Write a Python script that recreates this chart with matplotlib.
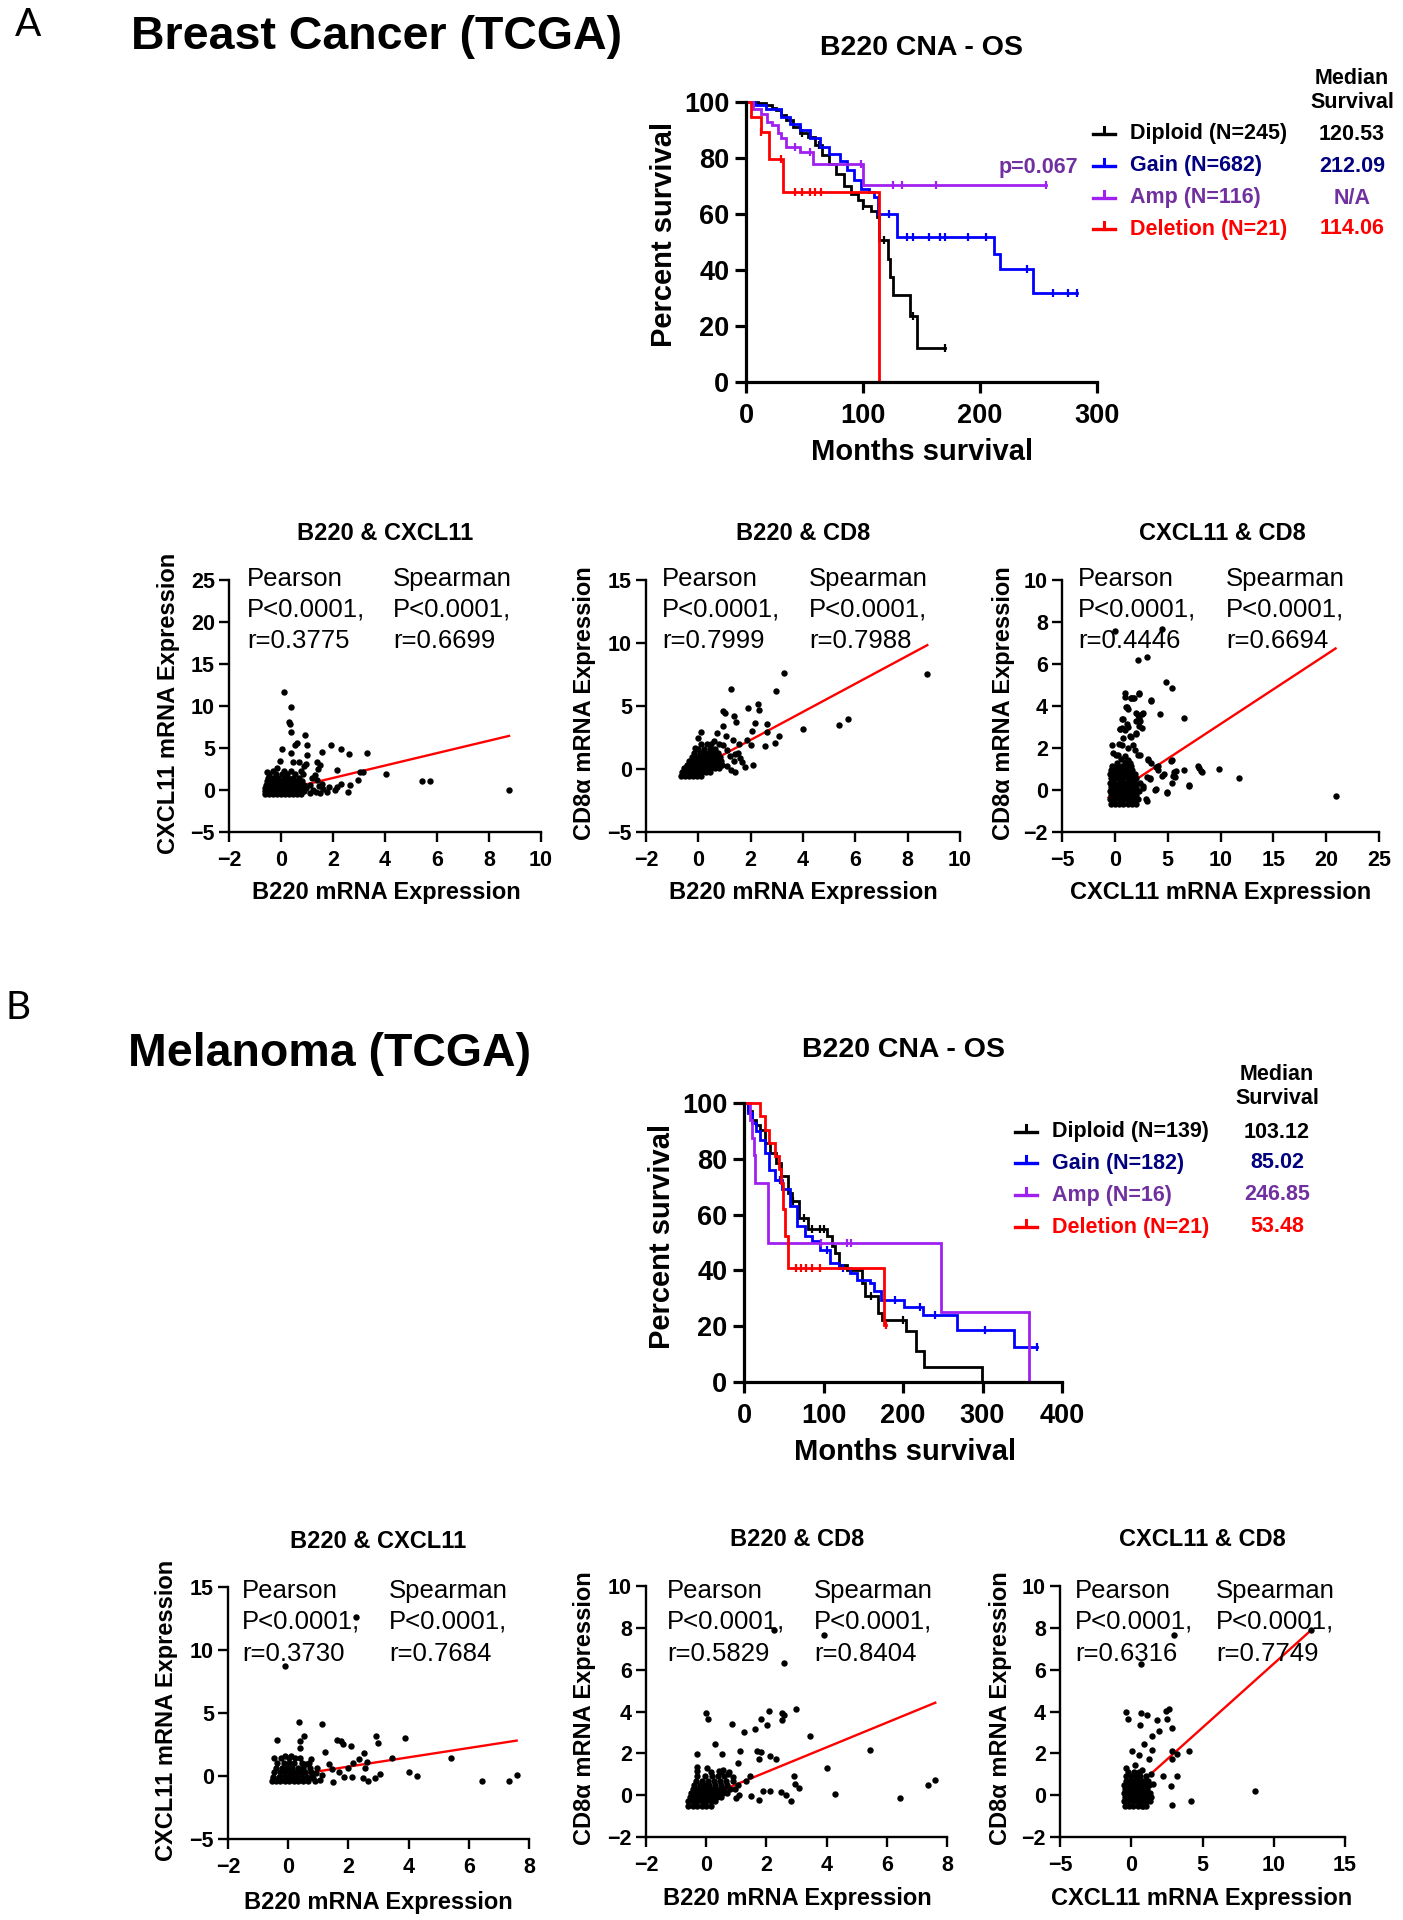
import numpy as np
import matplotlib
matplotlib.use("Agg")
import matplotlib.pyplot as plt
from matplotlib.lines import Line2D

W, H = 1403, 1920
SANS = ["Liberation Sans", "DejaVu Sans"]

# ---------------- survival data (months, percent surviving) ----------------
# Breast cancer
brca_dip_t = [0, 10, 17, 22, 26, 30, 34, 40, 46, 53, 59, 65, 71, 77, 84, 90, 96, 100, 107, 112, 114, 121, 123, 126, 140, 146]
brca_dip_s = [100, 99.5, 98.8, 98, 97, 95.5, 93.5, 91, 89, 87.5, 84.5, 81, 78, 74.4, 70, 67, 65, 63, 61, 59, 50.6, 44, 37.5, 31, 23.5, 12]
brca_dip_end = 170
brca_dip_cens = [48, 62, 100, 118, 143, 170]

brca_gain_t = [0, 8, 17, 30, 38, 46, 55, 63, 71, 80, 86, 92, 98, 105, 109, 113, 129, 212, 217, 245]
brca_gain_s = [100, 99, 97.6, 94.6, 92.3, 90, 87, 84, 81.5, 79, 75.6, 72, 69, 68, 66, 60, 51.8, 45.8, 40.5, 31.8]
brca_gain_end = 283
brca_gain_cens = [122, 138, 143, 156, 166, 170, 190, 205, 240, 262, 275, 283]

brca_amp_t = [0, 6, 13, 18, 22, 27, 30, 34, 46, 57, 100]
brca_amp_s = [100, 97.6, 95.8, 93, 91.7, 89, 87, 84, 82, 78, 70.5]
brca_amp_end = 256
brca_amp_cens = [42, 55, 98, 126, 133, 162, 256]

brca_del_t = [0, 4, 12.5, 19.5, 32, 114]
brca_del_s = [100, 94.6, 89.3, 79.8, 68, 0]
brca_del_end = 114
brca_del_cens = [13, 30, 42, 48, 55, 59, 64]

# Melanoma
skcm_dip_t = [0, 5, 10, 15, 20, 26, 33, 40, 46, 55, 61, 69, 80, 105, 111, 115, 120, 130, 149, 152, 168, 174, 204, 216, 227, 299.5]
skcm_dip_s = [100, 97, 94, 92, 90.4, 85.7, 82, 78.5, 73.7, 67.7, 64.8, 58.8, 55, 52.2, 48.6, 46.2, 42, 40.3, 35.5, 30.7, 24.7, 22.3, 18.2, 11, 5.4, 0]
skcm_dip_end = 299.5
skcm_dip_cens = [62, 75, 86, 95, 100, 160, 200]

skcm_gain_t = [0, 5, 10, 15, 20, 26, 31, 39, 48, 58, 67, 77, 86, 95, 108, 120, 133, 142, 158, 164, 172, 201, 225, 268, 340]
skcm_gain_s = [100, 96.5, 92.8, 90, 86.9, 82, 76, 72.5, 69, 63, 55.8, 52.2, 50.4, 47.4, 42.7, 40.9, 39, 36.7, 35.5, 32.5, 29.5, 26.9, 24.1, 18.8, 12.5]
skcm_gain_end = 368
skcm_gain_cens = [45, 105, 125, 190, 222, 240, 303, 368]

skcm_amp_t = [0, 7, 10, 12, 14, 30, 248, 358]
skcm_amp_s = [100, 93.75, 87.5, 81.25, 71.5, 50, 25, 0]
skcm_amp_end = 358
skcm_amp_cens = [97, 130, 135]

skcm_del_t = [0, 20, 27, 31, 39, 44, 46.5, 49, 52, 55, 176]
skcm_del_s = [100, 95.2, 90.5, 85.7, 81, 76.2, 71.4, 61.9, 52.4, 40.9, 20.5]
skcm_del_end = 178
skcm_del_cens = [66, 72, 78, 86, 95, 178]

groups = ["Diploid", "Gain", "Amp", "Deletion"]
brca_n = [245, 682, 116, 21]
brca_median = ["120.53", "212.09", "N/A", "114.06"]
skcm_n = [139, 182, 16, 21]
skcm_median = ["103.12", "85.02", "246.85", "53.48"]

# ---------------- correlation data (outliers + dense core rows) ----------------
a1_pts = [(0.12, 11.7), (0.37, 9.9), (0.29, 8.1), (0.33, 7.9), (0.37, 6.9), (0.92, 6.5), (0.54, 5.4),
          (0.6, 5.6), (1.01, 5.33), (1.93, 5.33), (2.3, 4.83), (2.61, 4.24), (3.29, 4.44), (0.03, 4.83),
          (1.57, 4.55), (1.01, 4.16), (0.38, 4.36), (-0.02, 3.42), (0.46, 3.34), (0.68, 3.34), (0.97, 3.07),
          (1.38, 3.34), (1.41, 2.55), (1.49, 2.95), (2.15, 2.35), (3.05, 2.15), (3.15, 2.15), (4.03, 1.95),
          (5.41, 1.04), (5.73, 1.04), (8.77, 0.05), (2.3, 0.76), (2.64, 0.64), (2.57, -0.23), (2.96, 1.24),
          (2.09, 0.05), (1.76, -0.23), (1.51, -0.35), (1.83, 0.36), (1.57, 0.76), (1.38, 1.16), (1.19, 1.48),
          (2.15, 0.36), (1.24, 0.0), (1.12, 0.6), (1.31, 1.75), (-0.17, 2.6), (-0.55, 2.15), (0.9, 2.8),
          (1.1, -0.3), (1.35, -0.2), (1.6, 0.1), (1.45, 0.5)]
a1_core = [(-0.5, [-0.6, -0.45, -0.3, -0.15, 0.0, 0.15, 0.3, 0.45, 0.6, 0.75]),
           (-0.15, [-0.62, -0.48, -0.32, -0.18, -0.02, 0.12, 0.28, 0.42, 0.58, 0.72, 0.88]),
           (0.25, [-0.6, -0.45, -0.28, -0.12, 0.05, 0.2, 0.35, 0.5, 0.65, 0.8, 0.95]),
           (0.65, [-0.58, -0.4, -0.25, -0.08, 0.08, 0.25, 0.4, 0.55, 0.7, 0.9]),
           (1.05, [-0.55, -0.38, -0.2, -0.02, 0.15, 0.32, 0.48, 0.62, 0.8]),
           (1.45, [-0.5, -0.3, -0.1, 0.1, 0.28, 0.45, 0.7]),
           (1.85, [-0.45, -0.2, 0.02, 0.22, 0.55, 0.85]),
           (2.3, [-0.3, 0.1, 0.4, 0.75])]
a1_fit = ([-0.6, 8.77], [-0.49, 6.44])

a2_pts = [(8.75, 7.53), (3.29, 7.64), (2.95, 6.18), (1.24, 6.34), (2.29, 5.12), (2.32, 4.67), (1.89, 4.85),
          (0.93, 4.59), (1.02, 4.46), (1.35, 4.19), (1.44, 3.74), (2.62, 3.61), (2.15, 3.66), (0.94, 3.4),
          (2.62, 2.95), (2.06, 3.0), (3.1, 2.6), (3.99, 3.21), (5.39, 3.53), (5.71, 3.95), (2.94, 2.07),
          (2.56, 1.81), (2.01, 1.89), (1.86, 2.28), (1.54, 2.02), (1.32, 2.34), (1.09, 1.54), (1.6, 0.9),
          (1.67, 0.56), (1.79, 0.17), (2.09, 0.3), (1.41, -0.23), (0.71, 2.87), (0.1, 2.95), (-0.01, 2.5),
          (-0.12, 1.7), (0.52, 1.54), (0.81, 0.96), (1.2, 1.0), (1.35, 0.6), (1.5, 1.3), (1.1, 0.2),
          (1.25, -0.1), (0.6, 2.2), (0.35, 2.0), (0.95, 1.9), (1.05, 2.6), (1.4, 1.2)]
a2_core = [(-0.55, [-0.65, -0.5, -0.35, -0.2, -0.05, 0.1]),
           (-0.25, [-0.62, -0.45, -0.3, -0.15, 0.0, 0.15, 0.3, 0.45]),
           (0.05, [-0.55, -0.4, -0.25, -0.1, 0.05, 0.2, 0.35, 0.5, 0.65, 0.8]),
           (0.35, [-0.45, -0.3, -0.15, 0.0, 0.15, 0.3, 0.45, 0.6, 0.75, 0.9]),
           (0.65, [-0.35, -0.2, -0.05, 0.1, 0.25, 0.4, 0.55, 0.7, 0.85]),
           (0.95, [-0.25, -0.1, 0.05, 0.2, 0.35, 0.5, 0.65, 0.8]),
           (1.25, [-0.15, 0.05, 0.25, 0.4, 0.6, 0.75]),
           (1.6, [0.0, 0.2, 0.45, 0.65]),
           (1.95, [0.12, 0.5, 0.8])]
a2_fit = ([-0.6, 8.75], [-0.59, 9.83])

a3_pts = [(-0.01, 7.57), (4.47, 7.65), (2.2, 6.19), (3.05, 6.34), (4.88, 5.12), (5.42, 4.88), (0.94, 4.63),
          (2.26, 4.6), (1.57, 4.39), (1.79, 4.36), (3.46, 4.25), (1.09, 3.96), (6.56, 3.44), (4.25, 3.61),
          (2.04, 3.69), (2.67, 3.69), (1.98, 3.28), (2.36, 3.28), (0.78, 3.36), (1.25, 3.01), (2.58, 2.93),
          (0.46, 2.9), (2.04, 2.69), (1.57, 2.53), (0.4, 2.21), (-0.23, 2.16), (1.25, 2.02), (1.73, 2.13),
          (0.15, 1.69), (2.2, 1.66), (3.15, 1.5), (5.42, 1.45), (4.09, 1.13), (7.88, 1.13), (8.2, 0.91),
          (9.87, 0.99), (11.77, 0.57), (20.89, -0.3), (7.03, 0.23), (6.56, 0.94), (5.77, 0.89), (5.67, 0.62),
          (5.42, 0.34), (4.95, -0.09), (4.5, 0.67), (4.63, 0.78), (3.87, 0.07), (3.3, 0.57), (2.99, -0.44),
          (2.67, 0.19), (0.96, 4.41), (1.5, 4.36), (1.75, 4.36), (2.27, 4.55), (3.44, 4.27), (1.12, 3.95),
          (1.28, 3.87), (2.15, 3.55), (2.3, 3.45), (2.54, 3.63), (0.65, 3.36), (1.12, 3.12), (0.65, 2.97),
          (0.96, 2.84), (0.49, 2.89), (1.43, 2.57), (2.24, 3.04), (2.02, 2.72), (0.65, 2.16), (-0.14, 1.77),
          (0.33, 1.69), (0.96, 1.61), (1.28, 1.45), (2.38, 1.66), (3.17, 1.45), (3.39, 1.29), (3.9, 1.09),
          (5.32, 1.37), (4.05, 0.93), (5.63, 0.87), (5.47, 0.66), (3.08, 0.62), (3.33, 0.51), (2.7, 0.11),
          (3.8, 0.0), (4.9, -0.13), (3.02, -0.53), (6.99, 0.19), (7.93, 1.06), (8.25, 0.87),
          (0.2, 1.3), (0.6, 1.5), (1.0, 1.35), (1.4, 1.3), (1.9, 1.9), (0.8, 2.5)]
a3_core = [(-0.65, [-0.4, 0.0, 0.4, 0.8, 1.2, 1.6, 2.0]),
           (-0.45, [-0.45, -0.05, 0.35, 0.75, 1.15, 1.55, 1.95, 2.2]),
           (-0.25, [-0.4, 0.0, 0.4, 0.8, 1.2, 1.6, 2.0]),
           (-0.05, [-0.45, -0.05, 0.35, 0.75, 1.15, 1.55, 1.95, 2.3]),
           (0.15, [-0.4, 0.0, 0.4, 0.8, 1.2, 1.6, 2.0]),
           (0.35, [-0.45, -0.05, 0.35, 0.75, 1.15, 1.55, 1.95, 2.35]),
           (0.55, [-0.4, 0.0, 0.4, 0.8, 1.2, 1.6, 2.0]),
           (0.75, [-0.45, -0.05, 0.35, 0.75, 1.15, 1.55, 1.95]),
           (0.95, [-0.4, 0.0, 0.4, 0.8, 1.2, 1.6]),
           (1.15, [-0.3, 0.2, 0.7, 1.1, 1.5])]
a3_fit = ([-0.6, 20.89], [-0.36, 6.74])

b1_pts = [(-0.1, 8.72), (2.25, 12.63), (0.35, 4.26), (1.13, 4.1), (-0.37, 2.86), (0.53, 3.18), (0.38, 2.81),
          (0.38, 2.26), (1.62, 2.86), (1.75, 2.81), (1.81, 2.52), (2.08, 2.41), (2.91, 3.18), (2.98, 2.65),
          (3.88, 3.0), (1.23, 1.94), (2.52, 1.86), (3.46, 1.46), (5.41, 1.41), (2.34, 1.33), (2.14, 1.02),
          (2.61, 1.1), (2.55, 0.67), (2.0, 0.67), (1.45, 0.54), (1.34, 0.94), (0.75, 1.36), (4.01, 0.28),
          (4.27, 0.01), (3.06, 0.17), (2.87, -0.17), (2.65, -0.36), (2.5, -0.12), (2.12, -0.04), (1.86, -0.04),
          (1.69, 0.3), (1.48, -0.44), (6.43, -0.36), (7.35, -0.36), (7.59, 0.09), (1.06, -0.3), (0.84, -0.12),
          (1.12, 0.09), (0.92, 0.25), (0.95, 0.62), (0.6, 0.95), (0.08, 1.62), (-0.1, 1.55)]
b1_core = [(-0.4, [-0.55, -0.42, -0.28, -0.12, 0.02, 0.18, 0.32, 0.48, 0.66, 0.88]),
           (-0.05, [-0.5, -0.32, -0.16, 0.0, 0.14, 0.3, 0.46, 0.62, 0.8]),
           (0.3, [-0.46, -0.28, -0.1, 0.06, 0.22, 0.38, 0.56, 0.76]),
           (0.65, [-0.4, -0.22, -0.04, 0.14, 0.32, 0.5, 0.72]),
           (1.0, [-0.36, -0.14, 0.02, 0.2, 0.46, 0.68]),
           (1.4, [-0.48, -0.24, 0.04, 0.22, 0.4])]
b1_fit = ([-0.55, 7.59], [-0.2, 2.81])

b2_pts = [(2.24, 7.88), (3.9, 7.64), (2.57, 6.32), (0.0, 3.94), (0.07, 3.63), (2.09, 4.02), (2.51, 3.93),
          (2.59, 3.82), (2.98, 4.1), (1.81, 3.63), (1.63, 3.18), (2.01, 3.34), (0.85, 3.39), (1.24, 3.02),
          (2.51, 3.61), (3.45, 2.81), (0.29, 2.43), (-0.31, 1.95), (0.54, 1.98), (1.13, 2.1), (1.68, 2.1),
          (1.83, 2.06), (2.12, 1.86), (2.32, 1.71), (1.76, 1.71), (1.07, 1.54), (5.43, 2.14), (4.01, 1.31),
          (1.46, 0.92), (1.33, 0.66), (2.93, 0.9), (2.96, 0.55), (3.09, 0.34), (1.07, 0.47), (1.88, 0.18),
          (2.12, 0.2), (2.48, 0.15), (2.65, -0.01), (2.82, -0.28), (1.76, -0.25), (1.49, -0.06), (4.29, 0.04),
          (6.45, -0.14), (7.37, 0.5), (7.61, 0.74), (0.88, 0.87), (0.74, 1.0), (0.57, 1.19), (0.41, 1.16),
          (0.02, 1.31), (-0.31, 1.35), (-0.29, 1.16), (1.0, -0.15), (1.1, 0.0), (0.95, 0.3)]
b2_core = [(-0.5, [-0.6, -0.45, -0.3, -0.15, 0.0, 0.15]),
           (-0.3, [-0.6, -0.45, -0.3, -0.15, 0.0, 0.15, 0.3]),
           (-0.1, [-0.55, -0.4, -0.25, -0.1, 0.05, 0.2, 0.35, 0.5]),
           (0.1, [-0.5, -0.35, -0.2, -0.05, 0.1, 0.25, 0.4, 0.55, 0.7]),
           (0.3, [-0.45, -0.3, -0.15, 0.0, 0.15, 0.3, 0.45, 0.6, 0.8]),
           (0.5, [-0.4, -0.2, -0.05, 0.1, 0.3, 0.5, 0.7]),
           (0.7, [-0.35, -0.15, 0.05, 0.25, 0.45, 0.65, 0.9]),
           (0.9, [-0.3, -0.05, 0.2, 0.4, 0.6]),
           (1.1, [0.15, 0.5, 0.75])]
b2_fit = ([-0.55, 7.61], [-0.4, 4.42])

b3_pts = [(12.61, 7.88), (3.02, 7.64), (0.68, 6.29), (-0.39, 3.98), (-0.2, 3.63), (0.68, 3.94), (1.13, 3.82),
          (0.64, 3.37), (1.83, 3.61), (1.95, 3.05), (1.48, 2.81), (2.44, 4.02), (2.63, 4.1), (2.49, 3.63),
          (2.84, 3.21), (0.08, 2.1), (0.92, 2.43), (0.54, 1.9), (1.44, 2.14), (1.27, 1.74), (2.88, 2.11),
          (3.19, 1.98), (4.08, 2.11), (2.84, 1.71), (-0.39, 1.31), (0.26, 1.43), (0.73, 1.19), (1.36, 1.03),
          (2.25, 0.92), (3.19, 0.92), (1.55, 0.55), (2.79, 0.42), (8.68, 0.2), (4.22, -0.29), (2.86, -0.49),
          (1.36, -0.09), (0.85, -0.53), (1.27, 0.47)]
b3_core = [(-0.5, [-0.45, -0.15, 0.15, 0.45, 0.75, 1.05]),
           (-0.3, [-0.5, -0.2, 0.1, 0.4, 0.7, 1.0, 1.3]),
           (-0.1, [-0.45, -0.15, 0.15, 0.45, 0.75, 1.05]),
           (0.1, [-0.5, -0.2, 0.1, 0.4, 0.7, 1.0, 1.35]),
           (0.3, [-0.45, -0.15, 0.15, 0.45, 0.75, 1.1]),
           (0.5, [-0.5, -0.2, 0.1, 0.4, 0.7, 1.0]),
           (0.7, [-0.4, -0.1, 0.2, 0.5, 0.8, 1.2]),
           (0.9, [-0.35, -0.05, 0.3, 0.6, 1.0]),
           (1.1, [-0.2, 0.2, 0.55])]
b3_fit = ([-0.5, 12.61], [-0.13, 7.88])

stats = {
    "a1": ("0.3775", "0.6699"), "a2": ("0.7999", "0.7988"), "a3": ("0.4446", "0.6694"),
    "b1": ("0.3730", "0.7684"), "b2": ("0.5829", "0.8404"), "b3": ("0.6316", "0.7749"),
}

# ---------------- styling ----------------
KM_COLORS = ["#000000", "#0000ff", "#a020f0", "#ff0000"]
TXT_COLORS = ["#000000", "#000080", "#7030a0", "#ff0000"]

plt.rcParams.update({"font.family": SANS, "axes.linewidth": 1.7})

fig = plt.figure(figsize=(W / 100, H / 100), dpi=100)


def px_axes(l, t, r, b):
    return fig.add_axes([l / W, 1 - b / H, (r - l) / W, (b - t) / H])


def ftext(x, y, s, **kw):
    kw.setdefault("ha", "center")
    kw.setdefault("va", "center")
    return fig.text(x / W, 1 - y / H, s, **kw)


def fline(xs, ys, **kw):
    fig.add_artist(Line2D([x / W for x in xs], [1 - y / H for y in ys],
                          transform=fig.transFigure, **kw))


def km_curve(ax, t, s, t_end, cens, color):
    tt = list(t) + [t_end]
    ss = list(s) + [s[-1]]
    ax.step(tt, ss, where="post", color=color, lw=2.0, clip_on=False, solid_joinstyle="miter")
    idx = np.searchsorted(tt, cens, side="right") - 1
    cy = [ss[i] for i in idx]
    ax.plot(cens, cy, ls="none", marker="|", ms=5.5, mew=1.6, color=color, clip_on=False)


def km_panel(box, curves, xmax, xstep, title, title_xy, ylab_xy, xlab_xy,
             leg_x, leg_rows, ns, medians, med_x, med_hdr_y):
    ax = px_axes(*box)
    for (t, s, te, ce), c in zip(curves, KM_COLORS):
        km_curve(ax, t, s, te, ce, c)
    ax.set_xlim(0, xmax)
    ax.set_ylim(0, 100)
    ax.set_xticks(np.arange(0, xmax + 1, xstep))
    ax.set_yticks(np.arange(0, 101, 20))
    for sp in ["top", "right"]:
        ax.spines[sp].set_visible(False)
    for sp in ["left", "bottom"]:
        ax.spines[sp].set_linewidth(2.3)
    ax.tick_params(direction="out", length=8, width=2.3, labelsize=19.5, pad=4)
    ax.tick_params(axis="x", pad=7)
    for lab in ax.get_xticklabels() + ax.get_yticklabels():
        lab.set_fontweight("bold")
    ftext(*title_xy, title, fontsize=20.5, fontweight="bold")
    ftext(*ylab_xy, "Percent survival", fontsize=21, fontweight="bold", rotation=90)
    ftext(*xlab_xy, "Months survival", fontsize=21, fontweight="bold")
    ftext(med_x, med_hdr_y[0], "Median", fontsize=15.5, fontweight="bold")
    ftext(med_x, med_hdr_y[1], "Survival", fontsize=15.5, fontweight="bold")
    for g, n, m, y, c, tc in zip(groups, ns, medians, leg_rows, KM_COLORS, TXT_COLORS):
        fline([leg_x, leg_x + 22], [y, y], color=c, lw=2.4)
        fline([leg_x + 11, leg_x + 11], [y, y - 7], color=c, lw=2.2)
        ftext(leg_x + 37, y, f"{g} (N={n})", fontsize=15.5, fontweight="bold", color=tc, ha="left")
        ftext(med_x, y, m, fontsize=15.5, fontweight="bold", color=tc)
    return ax


def scatter_panel(box, pts, core, fit, xlim, xstep, ylim, ystep, title, title_xy,
                  xlab, xlab_xy, ylab, ylab_xy, r_vals, txt_x, txt_y):
    ax = px_axes(*box)
    xs = [p[0] for p in pts]
    ys = [p[1] for p in pts]
    for y, row in core:
        xs += row
        ys += [y] * len(row)
    ax.plot(fit[0], fit[1], color="#ff0000", lw=1.7, zorder=2)
    ax.plot(xs, ys, "o", color="black", ms=4.6, mew=0, zorder=3, clip_on=False)
    ax.set_xlim(*xlim)
    ax.set_ylim(*ylim)
    ax.set_xticks(np.arange(xlim[0], xlim[1] + 0.1, xstep))
    ax.set_yticks(np.arange(ylim[0], ylim[1] + 0.1, ystep))
    for sp in ["top", "right"]:
        ax.spines[sp].set_visible(False)
    ax.tick_params(direction="out", length=7, width=1.7, labelsize=15.5)
    ax.tick_params(axis="x", pad=6)
    ax.tick_params(axis="y", pad=3)
    for lab in ax.get_xticklabels() + ax.get_yticklabels():
        lab.set_fontweight("bold")
    ftext(*title_xy, title, fontsize=17, fontweight="bold")
    ftext(*xlab_xy, xlab, fontsize=17, fontweight="bold")
    ftext(*ylab_xy, ylab, fontsize=17, fontweight="bold", rotation=90)
    rows = [("Pearson", "Spearman"), ("P<0.0001,", "P<0.0001,"),
            (f"r={r_vals[0]}", f"r={r_vals[1]}")]
    for (p, s), yy in zip(rows, txt_y):
        ftext(txt_x[0], yy, p, fontsize=18.5, ha="left")
        ftext(txt_x[1], yy, s, fontsize=18.5, ha="left")
    return ax


# ---------------- panel A: breast cancer ----------------
ftext(28, 25, "A", fontsize=28, family=["Lato", "DejaVu Sans"])
ftext(131, 37, "Breast Cancer (TCGA)", fontsize=33.5, fontweight="bold", ha="left")

km_panel((746, 102, 1097, 382),
         [(brca_dip_t, brca_dip_s, brca_dip_end, brca_dip_cens),
          (brca_gain_t, brca_gain_s, brca_gain_end, brca_gain_cens),
          (brca_amp_t, brca_amp_s, brca_amp_end, brca_amp_cens),
          (brca_del_t, brca_del_s, brca_del_end, brca_del_cens)],
         300, 100, "B220 CNA - OS", (922, 48), (664, 234), (922, 452),
         1093, [134, 166, 198, 229], brca_n, brca_median, 1352, (79, 103))
ftext(1078, 168, "p=0.067", fontsize=15.5, fontweight="bold", color="#7030a0", ha="right")

scatter_panel((229, 580, 541, 832), a1_pts, a1_core, a1_fit, (-2, 10), 2, (-5, 25), 5,
              "B220 & CXCL11", (385, 533), "B220 mRNA Expression", (386, 893),
              "CXCL11 mRNA Expression", (168, 703), stats["a1"], (247, 393), (579, 610, 641))
scatter_panel((646, 580, 960, 832), a2_pts, a2_core, a2_fit, (-2, 10), 2, (-5, 15), 5,
              "B220 & CD8", (803, 533), "B220 mRNA Expression", (803, 893),
              "CD8α mRNA Expression", (585, 703), stats["a2"], (662, 809), (579, 610, 641))
scatter_panel((1062, 580, 1379, 832), a3_pts, a3_core, a3_fit, (-5, 25), 5, (-2, 10), 2,
              "CXCL11 & CD8", (1222, 533), "CXCL11 mRNA Expression", (1221, 893),
              "CD8α mRNA Expression", (1003, 703), stats["a3"], (1078, 1226), (579, 610, 641))

# ---------------- panel B: melanoma ----------------
ftext(18, 1008, "B", fontsize=28, family=["Lato", "DejaVu Sans"])
ftext(128, 1054, "Melanoma (TCGA)", fontsize=33.5, fontweight="bold", ha="left")

km_panel((744, 1103, 1062, 1382),
         [(skcm_dip_t, skcm_dip_s, skcm_dip_end, skcm_dip_cens),
          (skcm_gain_t, skcm_gain_s, skcm_gain_end, skcm_gain_cens),
          (skcm_amp_t, skcm_amp_s, skcm_amp_end, skcm_amp_cens),
          (skcm_del_t, skcm_del_s, skcm_del_end, skcm_del_cens)],
         400, 100, "B220 CNA - OS", (903, 1050), (662, 1236), (905, 1452),
         1015, [1132, 1163, 1195, 1227], skcm_n, skcm_median, 1277, (1075, 1099))

scatter_panel((228, 1587, 529, 1839), b1_pts, b1_core, b1_fit, (-2, 8), 2, (-5, 15), 5,
              "B220 & CXCL11", (378, 1542), "B220 mRNA Expression", (378, 1902),
              "CXCL11 mRNA Expression", (167, 1710), stats["b1"], (242, 389), (1591, 1622, 1654))
scatter_panel((646, 1586, 947, 1837), b2_pts, b2_core, b2_fit, (-2, 8), 2, (-2, 10), 2,
              "B220 & CD8", (797, 1540), "B220 mRNA Expression", (797, 1898),
              "CD8α mRNA Expression", (585, 1708), stats["b2"], (667, 814), (1591, 1622, 1654))
scatter_panel((1060, 1586, 1345, 1837), b3_pts, b3_core, b3_fit, (-5, 15), 5, (-2, 10), 2,
              "CXCL11 & CD8", (1202, 1540), "CXCL11 mRNA Expression", (1202, 1898),
              "CD8α mRNA Expression", (1000, 1708), stats["b3"], (1075, 1216), (1591, 1622, 1654))

fig.savefig("out.png", dpi=100)
